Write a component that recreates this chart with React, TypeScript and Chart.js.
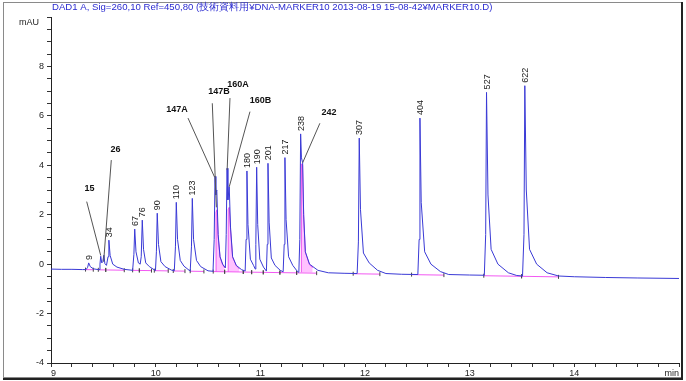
import React, { useEffect, useRef } from 'react';
import { Chart, registerables } from 'chart.js';

Chart.register(...registerables);

// ---------------- data ----------------
const TITLE = 'DAD1 A, Sig=260,10 Ref=450,80 (技術資料用¥DNA-MARKER10 2013-08-19 15-08-42¥MARKER10.D)';
const Y_UNIT = 'mAU';
const X_UNIT = 'min';

// chromatogram trace (retention time in min, signal in mAU)
const traceTime = [
  9.0, 9.1, 9.2, 9.3, 9.335, 9.35, 9.36, 9.375, 9.405, 9.45,
  9.46, 9.468, 9.475, 9.485, 9.495, 9.505, 9.515, 9.53, 9.545, 9.553,
  9.565, 9.59, 9.63, 9.7, 9.78, 9.792, 9.8, 9.812, 9.835, 9.852,
  9.862, 9.872, 9.884, 9.905, 9.94, 9.99, 9.998, 10.007, 10.015, 10.027,
  10.05, 10.09, 10.15, 10.178, 10.189, 10.197, 10.209, 10.235, 10.27, 10.32,
  10.33, 10.342, 10.35, 10.362, 10.39, 10.43, 10.5, 10.548, 10.559, 10.567,
  10.575, 10.584, 10.597, 10.615, 10.64, 10.666, 10.674, 10.682, 10.69, 10.703,
  10.715, 10.735, 10.77, 10.82, 10.855, 10.864, 10.872, 10.882, 10.905, 10.935,
  10.952, 10.957, 10.965, 10.975, 10.995, 11.03, 11.058, 11.066, 11.073, 11.084,
  11.105, 11.14, 11.19, 11.218, 11.228, 11.235, 11.246, 11.27, 11.31, 11.355,
  11.368, 11.377, 11.385, 11.393, 11.404, 11.414, 11.43, 11.47, 11.55, 11.65,
  11.8, 11.925, 11.937, 11.945, 11.957, 11.985, 12.04, 12.12, 12.2, 12.35,
  12.505, 12.517, 12.525, 12.537, 12.57, 12.63, 12.72, 12.8, 13.0, 13.14,
  13.153, 13.161, 13.175, 13.205, 13.27, 13.37, 13.45, 13.505, 13.519, 13.527,
  13.541, 13.572, 13.64, 13.74, 13.85, 14.0, 14.3, 14.6, 15.0,
];
const traceSignal = [
  -0.2, -0.21, -0.21, -0.22, -0.22, -0.13, 0.05, -0.1, -0.19, -0.22,
  -0.22, 0.0, 0.32, 0.05, 0.1, 0.36, 0.02, -0.05, 0.3, 0.97,
  0.35, 0.0, -0.12, -0.21, -0.25, 0.4, 1.42, 0.5, 0.05, 0.0,
  0.3, 1.78, 0.6, 0.05, -0.1, -0.24, -0.26, 0.5, 2.06, 0.8,
  0.1, -0.1, -0.24, -0.27, 0.7, 2.5, 1.0, 0.15, -0.08, -0.25,
  -0.28, 0.7, 2.66, 1.0, 0.15, -0.1, -0.27, -0.29, 1.0, 3.55,
  2.8, 3.0, 1.2, 0.3, 0.0, -0.15, 1.2, 3.88, 2.6, 3.13,
  1.5, 0.3, -0.05, -0.22, -0.28, 1.0, 3.77, 1.6, 0.2, -0.05,
  -0.2, 0.8, 3.92, 1.6, 0.2, -0.12, -0.28, 0.8, 4.08, 1.7,
  0.25, -0.05, -0.25, -0.31, 0.8, 4.31, 1.8, 0.3, -0.05, -0.3,
  -0.33, 1.0, 5.27, 4.3, 4.11, 2.0, 0.5, 0.0, -0.25, -0.35,
  -0.37, -0.38, 0.9, 5.1, 2.2, 0.45, 0.05, -0.25, -0.38, -0.41,
  -0.42, 1.0, 5.91, 2.5, 0.5, 0.0, -0.3, -0.42, -0.44, -0.45,
  1.2, 6.95, 2.8, 0.6, 0.0, -0.35, -0.46, -0.48, 1.2, 7.22,
  3.0, 0.6, 0.0, -0.35, -0.48, -0.51, -0.54, -0.56, -0.58,
];

// peaks labelled vertically above their apex
const peakLabels = ['9', '34', '67', '76', '90', '110', '123', '180', '190', '201', '217', '238', '307', '404', '527', '622'];
const peakTimes = [9.36, 9.553, 9.8, 9.872, 10.015, 10.197, 10.35, 10.872, 10.965, 11.073, 11.235, 11.385, 11.945, 12.525, 13.161, 13.527];
const peakHeights = [0.05, 0.97, 1.42, 1.78, 2.06, 2.5, 2.66, 3.77, 3.92, 4.08, 4.31, 5.27, 5.1, 5.91, 6.95, 7.22];

// peaks labelled with a leader line
const calloutLabels = ['15', '26', '147A', '147B', '160A', '160B', '242'];
const calloutTargetTime = [9.475, 9.503, 10.563, 10.58, 10.683, 10.703, 11.404];
const calloutTargetValue = [0.35, 0.1, 3.52, 2.3, 3.81, 3.13, 4.1];
const calloutTextTime = [9.368, 9.616, 10.203, 10.605, 10.786, 11.001, 11.655];
const calloutTextValue = [3.04, 4.62, 6.24, 6.98, 7.25, 6.61, 6.13];
const calloutLineTime = [9.341, 9.576, 10.309, 10.541, 10.71, 10.901, 11.569];
const calloutLineValue = [2.53, 4.21, 5.91, 6.51, 6.72, 6.17, 5.7];

// integration baselines (pairs of start / end)
const baseStartTime = [9.33, 9.452, 9.523, 9.78, 9.844, 9.987, 10.168, 10.33, 10.55, 10.659, 10.837, 10.917, 11.028, 11.187, 11.347, 11.887, 12.445, 13.135, 13.496];
const baseStartValue = [-0.221, -0.229, -0.234, -0.251, -0.255, -0.264, -0.276, -0.286, -0.301, -0.308, -0.319, -0.325, -0.332, -0.342, -0.353, -0.388, -0.424, -0.469, -0.492];
const baseEndTime = [9.404, 9.523, 9.7, 9.844, 9.96, 10.12, 10.28, 10.461, 10.659, 10.837, 10.917, 11.028, 11.187, 11.347, 11.538, 12.142, 12.754, 13.496, 13.849];
const baseEndValue = [-0.226, -0.234, -0.246, -0.255, -0.262, -0.273, -0.283, -0.295, -0.308, -0.319, -0.325, -0.332, -0.342, -0.353, -0.365, -0.404, -0.444, -0.492, -0.515];

// shaded (split) peak areas
const shade147BTime = [10.577, 10.577, 10.586, 10.597, 10.615, 10.64, 10.659];
const shade147BValue = [-0.3, 2.1, 2.2, 1.1, 0.28, -0.02, -0.15];
const shade160BTime = [10.693, 10.693, 10.703, 10.715, 10.735, 10.77, 10.8];
const shade160BValue = [-0.31, 2.2, 2.3, 1.4, 0.28, -0.06, -0.2];
const shade242Time = [11.392, 11.392, 11.404, 11.414, 11.43, 11.47, 11.5];
const shade242Value = [-0.33, 4.05, 4.02, 1.95, 0.48, -0.02, -0.15];

const FONT = '"Liberation Sans", Arial, sans-serif';

const pts = (ts: number[], vs: number[]) => ts.map((t, i) => ({ x: t, y: vs[i] }));

const isInt = (v: number) => Math.abs(v - Math.round(v)) < 1e-6;

const decorPlugin = {
  id: 'decor',
  beforeDraw(chart: any) {
    const { ctx } = chart;
    ctx.save();
    ctx.fillStyle = '#fff';
    ctx.fillRect(0, 0, chart.width, chart.height);
    ctx.strokeStyle = '#8a8a8a';
    ctx.lineWidth = 1;
    ctx.strokeRect(3.5, 2.5, 678, 375);
    ctx.strokeStyle = '#222';
    ctx.lineWidth = 2;
    ctx.beginPath();
    ctx.moveTo(682, 2);
    ctx.lineTo(682, 379);
    ctx.lineTo(3, 379);
    ctx.stroke();
    ctx.restore();
  },
  afterDatasetsDraw(chart: any) {
    const { ctx } = chart;
    const xs = chart.scales.x;
    const ys = chart.scales.y;
    ctx.save();
    // vertical peak labels
    ctx.font = `9px ${FONT}`;
    ctx.fillStyle = '#1a1a1a';
    ctx.textAlign = 'left';
    ctx.textBaseline = 'middle';
    peakLabels.forEach((lab, i) => {
      const px = xs.getPixelForValue(peakTimes[i]);
      const py = ys.getPixelForValue(peakHeights[i]);
      ctx.save();
      ctx.translate(px + 0.5, py - 3);
      ctx.rotate(-Math.PI / 2);
      ctx.fillText(lab, 0, 0);
      ctx.restore();
    });
    // callouts
    ctx.strokeStyle = '#555';
    ctx.lineWidth = 1;
    calloutLabels.forEach((lab, i) => {
      ctx.beginPath();
      ctx.moveTo(xs.getPixelForValue(calloutLineTime[i]), ys.getPixelForValue(calloutLineValue[i]));
      ctx.lineTo(xs.getPixelForValue(calloutTargetTime[i]), ys.getPixelForValue(calloutTargetValue[i]));
      ctx.stroke();
    });
    ctx.font = `bold 9px ${FONT}`;
    ctx.fillStyle = '#111';
    ctx.textAlign = 'center';
    calloutLabels.forEach((lab, i) => {
      ctx.fillText(lab, xs.getPixelForValue(calloutTextTime[i]), ys.getPixelForValue(calloutTextValue[i]));
    });
    ctx.restore();
  },
  afterDraw(chart: any) {
    const { ctx, chartArea } = chart;
    ctx.save();
    ctx.font = `9.6px ${FONT}`;
    ctx.fillStyle = '#2b2bd0';
    ctx.textAlign = 'left';
    ctx.textBaseline = 'middle';
    ctx.fillText(TITLE, chartArea.left + 1, 7);
    ctx.font = `9px ${FONT}`;
    ctx.fillStyle = '#222';
    ctx.textAlign = 'right';
    ctx.fillText(Y_UNIT, chartArea.left - 12, chartArea.top + 6);
    ctx.restore();
  },
};

export default function App() {
  const ref = useRef<HTMLCanvasElement | null>(null);

  useEffect(() => {
    document.body.style.margin = '0';
    const canvas = ref.current;
    if (!canvas) return;

    const baselineData: any[] = [];
    baseStartTime.forEach((t, i) => {
      baselineData.push({ x: t, y: baseStartValue[i] });
      baselineData.push({ x: baseEndTime[i], y: baseEndValue[i] });
      baselineData.push({ x: baseEndTime[i] + 0.0001, y: null });
    });
    const eventData: any[] = [];
    baseStartTime.forEach((t, i) => {
      eventData.push({ x: t, y: baseStartValue[i] });
      eventData.push({ x: baseEndTime[i], y: baseEndValue[i] });
    });

    const shadeStyle = {
      type: 'line' as const,
      borderColor: 'rgba(235,60,235,0.85)',
      backgroundColor: 'rgba(255,120,255,0.45)',
      borderWidth: 1,
      pointRadius: 0,
      tension: 0,
      order: 2,
    };

    const chart = new Chart(canvas, {
      type: 'line',
      data: {
        datasets: [
          {
            label: 'signal',
            data: pts(traceTime, traceSignal),
            borderColor: '#3a3ad6',
            borderWidth: 1,
            pointRadius: 0,
            tension: 0,
            fill: false,
            order: 0,
          },
          {
            label: 'baseline',
            data: baselineData,
            borderColor: 'rgba(240,60,240,0.85)',
            borderWidth: 1,
            pointRadius: 0,
            tension: 0,
            fill: false,
            spanGaps: false,
            order: 1,
          },
          { ...shadeStyle, label: '147B', data: pts(shade147BTime, shade147BValue), fill: { value: -0.3 } },
          { ...shadeStyle, label: '160B', data: pts(shade160BTime, shade160BValue), fill: { value: -0.31 } },
          { ...shadeStyle, label: '242', data: pts(shade242Time, shade242Value), fill: { value: -0.34 } },
          {
            label: 'events',
            data: eventData,
            showLine: false,
            pointStyle: 'line',
            rotation: 90,
            pointRadius: 2,
            borderColor: '#444',
            borderWidth: 1,
            order: 0,
          } as any,
        ],
      },
      options: {
        animation: false,
        responsive: false,
        devicePixelRatio: 1,
        events: [],
        layout: { padding: { left: 0, top: 17, right: 7, bottom: 0 } },
        plugins: {
          legend: { display: false },
          tooltip: { enabled: false },
          title: { display: false },
        },
        scales: {
          x: {
            type: 'linear',
            min: 9,
            max: 15,
            afterFit: (s: any) => {
              s.height = 18;
            },
            ticks: {
              stepSize: 0.2,
              autoSkip: false,
              maxRotation: 0,
              minRotation: 0,
              align: 'inner',
              padding: 1,
              color: '#222',
              font: { family: FONT, size: 9 },
              callback: (v: any) => {
                const n = Number(v);
                if (!isInt(n)) return '';
                if (Math.round(n) === 15) return X_UNIT;
                return String(Math.round(n));
              },
            },
            grid: { drawOnChartArea: false, drawTicks: true, tickLength: 4, color: '#333' },
            border: { display: true, color: '#222', width: 1 },
          },
          y: {
            type: 'linear',
            min: -4,
            max: 10,
            afterFit: (s: any) => {
              s.width = 51;
            },
            ticks: {
              stepSize: 0.5,
              autoSkip: false,
              padding: 3,
              color: '#222',
              font: { family: FONT, size: 9 },
              callback: (v: any) => {
                const n = Number(v);
                if (!isInt(n)) return '';
                const r = Math.round(n);
                if (r % 2 !== 0 || r >= 10) return '';
                return String(r);
              },
            },
            grid: { drawOnChartArea: false, drawTicks: true, tickLength: 4, color: '#333' },
            border: { display: true, color: '#222', width: 1 },
          },
        },
      },
      plugins: [decorPlugin],
    });

    return () => {
      chart.destroy();
    };
  }, []);

  return (
    <div style={{ width: 686, height: 381 }}>
      <canvas ref={ref} width={686} height={381} style={{ display: 'block', width: 686, height: 381 }} />
    </div>
  );
}
